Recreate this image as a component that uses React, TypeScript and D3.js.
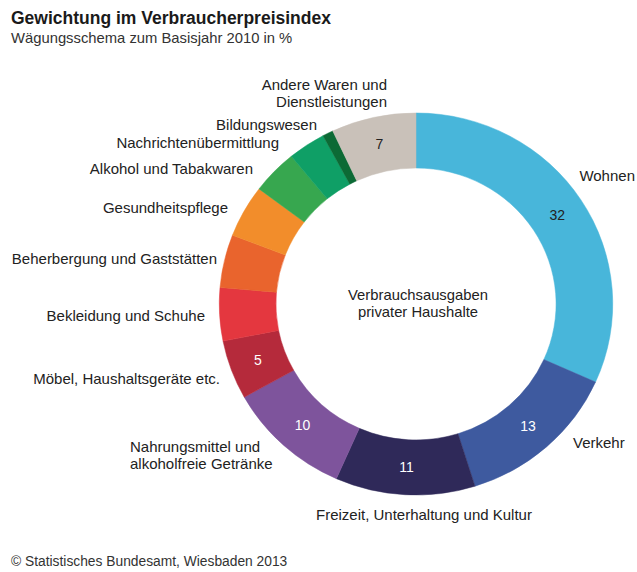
import React from "react";
import * as d3 from "d3";

const categories = [
  "Wohnen",
  "Verkehr",
  "Freizeit, Unterhaltung und Kultur",
  "Nahrungsmittel und alkoholfreie Getränke",
  "Möbel, Haushaltsgeräte etc.",
  "Bekleidung und Schuhe",
  "Beherbergung und Gaststätten",
  "Gesundheitspflege",
  "Alkohol und Tabakwaren",
  "Nachrichtenübermittlung",
  "Bildungswesen",
  "Andere Waren und Dienstleistungen",
];
const weights = [31.73, 13.47, 11.49, 10.27, 5.0, 4.49, 4.49, 4.44, 3.78, 3.1, 0.88, 6.96];
const shownValues = ["32", "13", "11", "10", "5", "", "", "", "", "", "", "7"];
const colors = [
  "#48b6da", "#3e5a9f", "#2f2959", "#7e549c", "#b52a3b", "#e4373f",
  "#e9642d", "#f28d2b", "#37a74f", "#0f9f66", "#0c6a35", "#c9c1b9",
];
const valueTextColors = ["#222", "#fff", "#fff", "#fff", "#fff", "#fff", "#fff", "#fff", "#fff", "#fff", "#fff", "#222"];

// label layout (text annotation placement)
const labelLayout: { lines: string[]; x: number; y: number; anchor: string }[] = [
  { lines: ["Wohnen"], x: 635, y: 181, anchor: "end" },
  { lines: ["Verkehr"], x: 573, y: 448, anchor: "start" },
  { lines: ["Freizeit, Unterhaltung und Kultur"], x: 316, y: 520, anchor: "start" },
  { lines: ["Nahrungsmittel und", "alkoholfreie Getränke"], x: 130, y: 452, anchor: "start" },
  { lines: ["Möbel, Haushaltsgeräte etc."], x: 220, y: 384, anchor: "end" },
  { lines: ["Bekleidung und Schuhe"], x: 205, y: 321, anchor: "end" },
  { lines: ["Beherbergung und Gaststätten"], x: 217, y: 264, anchor: "end" },
  { lines: ["Gesundheitspflege"], x: 228, y: 213, anchor: "end" },
  { lines: ["Alkohol und Tabakwaren"], x: 253, y: 174, anchor: "end" },
  { lines: ["Nachrichtenübermittlung"], x: 279, y: 148, anchor: "end" },
  { lines: ["Bildungswesen"], x: 317, y: 130, anchor: "end" },
  { lines: ["Andere Waren und", "Dienstleistungen"], x: 387, y: 90, anchor: "end" },
];

const W = 637;
const H = 572;
const cx = 416;
const cy = 304;
const outerR = 191;
const innerR = 136;
const sx = 1.03;
const FONT = "'Liberation Sans', Arial, sans-serif";

export default function App() {
  const data = categories.map((c, i) => ({ name: c, value: weights[i], i }));
  const pie = d3.pie<any>().sort(null).value((d: any) => d.value).startAngle(0).endAngle(2 * Math.PI);
  const arcs = pie(data);
  const arc = d3.arc<any>().innerRadius(innerR).outerRadius(outerR);

  return (
    <svg
      width={W}
      height={H}
      style={{ position: "absolute", left: 0, top: 0, background: "#fff" }}
      fontFamily={FONT}
    >
      <rect x={0} y={0} width={W} height={H} fill="#fff" />
      <text x={11} y={24} fontSize={17.5} fontWeight="bold" fill="#1a1a1a">
        Gewichtung im Verbraucherpreisindex
      </text>
      <text x={11} y={43} fontSize={14.8} fill="#333">
        Wägungsschema zum Basisjahr 2010 in %
      </text>

      <g transform={`translate(${cx},${cy}) scale(${sx},1)`}>
        {arcs.map((a, k) => (
          <path key={k} d={arc(a) as string} fill={colors[k]} stroke={colors[k]} strokeWidth={0.5} />
        ))}
      </g>
      <g transform={`translate(${cx},${cy})`}>
        {arcs.map((a, k) => {
          if (!shownValues[k]) return null;
          const [x, y] = arc.centroid(a);
          return (
            <text
              key={k}
              x={x * sx}
              y={y + 5}
              textAnchor="middle"
              fontSize={14}
              fill={valueTextColors[k]}
            >
              {shownValues[k]}
            </text>
          );
        })}
      </g>

      {labelLayout.map((l, k) => (
        <text key={k} x={l.x} y={l.y} textAnchor={l.anchor} fontSize={15} fill="#222">
          {l.lines.map((ln, j) => (
            <tspan key={j} x={l.x} dy={j === 0 ? 0 : 17}>
              {ln}
            </tspan>
          ))}
        </text>
      ))}

      <text x={418} y={300} textAnchor="middle" fontSize={14.8} fill="#222">
        Verbrauchsausgaben
      </text>
      <text x={418} y={317} textAnchor="middle" fontSize={14.8} fill="#222">
        privater Haushalte
      </text>

      <text x={11} y={566} fontSize={13.8} fill="#333">
        © Statistisches Bundesamt, Wiesbaden 2013
      </text>
    </svg>
  );
}
